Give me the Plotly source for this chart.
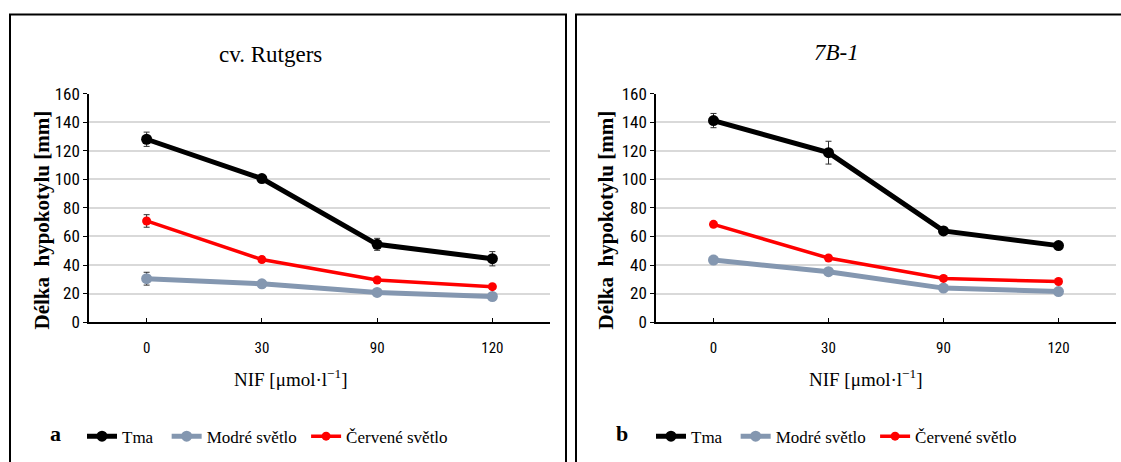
import plotly.graph_objects as go

W, H = 1121, 462

categories = ["0", "30", "90", "120"]
series_names = ["Tma", "Modré světlo", "Červené světlo"]

rutgers_tma = [128.2, 100.6, 54.5, 44.4]
rutgers_modre = [30.4, 26.8, 20.8, 17.9]
rutgers_cervene = [70.9, 43.8, 29.5, 24.8]
rutgers_tma_err = [5.0, 2.0, 4.2, 5.0]
rutgers_modre_err = [4.5, 2.0, 2.0, 2.0]
rutgers_cervene_err = [4.4, 2.0, 1.5, 1.5]

b71_tma = [141.3, 118.8, 63.9, 53.6]
b71_modre = [43.5, 35.3, 23.8, 21.4]
b71_cervene = [68.5, 44.9, 30.6, 28.4]
b71_tma_err = [5.0, 8.0, 2.5, 2.5]
b71_modre_err = [2.5, 2.0, 1.5, 1.5]
b71_cervene_err = [1.5, 1.5, 1.5, 1.5]

y_ticks = [0, 20, 40, 60, 80, 100, 120, 140, 160]

colors = ["#000000", "#8497B0", "#FF0000"]
widths = [5, 5, 3.5]
msizes = [11, 11, 9]
name_pad = ["\u00a0\u00a0", "\u00a0", ""]

SERIF = "Liberation Serif"
NARROW = "Liberation Sans Narrow, Roboto Condensed, DejaVu Sans Condensed, Liberation Sans"

def px(x):
    return x / W

def py(y):
    # compensate the vertical squeeze observed in the rendered screenshot
    yc = (y - 10.5) / 0.952
    return 1 - yc / H

fig = go.Figure()

panels = [
    ("x", "y", "legend", [rutgers_tma, rutgers_modre, rutgers_cervene],
     [rutgers_tma_err, rutgers_modre_err, rutgers_cervene_err]),
    ("x2", "y2", "legend2", [b71_tma, b71_modre, b71_cervene],
     [b71_tma_err, b71_modre_err, b71_cervene_err]),
]

for xa, ya, lg, vals, errs in panels:
    for name, pad, v, e, c, w, ms in zip(series_names, name_pad, vals, errs, colors, widths, msizes):
        fig.add_trace(go.Scatter(
            x=categories, y=v, name=name + pad, mode="lines+markers",
            xaxis=xa, yaxis=ya, legend=lg,
            line=dict(color=c, width=w),
            marker=dict(color=c, size=ms),
            error_y=dict(type="data", array=e, visible=True,
                         color="#303030", thickness=1, width=3),
        ))

axis_common_x = dict(
    type="category", range=[-0.5, 3.5], showgrid=False,
    showline=True, linecolor="#000000", linewidth=1.5,
    ticks="inside", ticklen=4, tickcolor="#000000",
    tickfont=dict(family=NARROW, size=15, color="#000000"),
    ticklabelstandoff=11, fixedrange=True,
)
axis_common_y = dict(
    range=[0, 160], tickvals=y_ticks, showgrid=True,
    gridcolor="#D9D9D9", gridwidth=1.5, zeroline=False,
    showline=True, linecolor="#000000", linewidth=1.5,
    ticks="outside", ticklen=4, tickcolor="#000000",
    tickfont=dict(family=NARROW, size=17, color="#000000"),
    fixedrange=True,
)

y_dom = [py(321), py(94)]

fig.update_layout(
    width=W, height=H,
    margin=dict(l=0, r=0, t=0, b=0),
    paper_bgcolor="white", plot_bgcolor="white",
    xaxis=dict(domain=[px(89), px(550)], anchor="y", **axis_common_x),
    yaxis=dict(domain=y_dom, anchor="x", **axis_common_y),
    xaxis2=dict(domain=[px(656), px(1116)], anchor="y2", **axis_common_x),
    yaxis2=dict(domain=y_dom, anchor="x2", **axis_common_y),
    legend=dict(orientation="h", x=px(82), y=py(435), xanchor="left", yanchor="middle",
                font=dict(family=SERIF, size=17, color="#000000"),
                itemwidth=30, bgcolor="rgba(0,0,0,0)", traceorder="normal"),
    legend2=dict(orientation="h", x=px(651), y=py(435), xanchor="left", yanchor="middle",
                 font=dict(family=SERIF, size=17, color="#000000"),
                 itemwidth=30, bgcolor="rgba(0,0,0,0)", traceorder="normal"),
    showlegend=True,
)

annotations = [
    dict(text="cv. Rutgers", x=px(270), y=py(55), font=dict(family=SERIF, size=23)),
    dict(text="<i>7B-1</i>", x=px(836), y=py(53), font=dict(family=SERIF, size=23)),
    dict(text="NIF [μmol·l<sup>−1</sup>]", x=px(291), y=py(377), font=dict(family=SERIF, size=19)),
    dict(text="NIF [μmol·l<sup>−1</sup>]", x=px(866), y=py(377), font=dict(family=SERIF, size=19)),
    dict(text="<b>Délka  hypokotylu [mm]</b>", x=px(42), y=py(220), textangle=-90,
         font=dict(family=SERIF, size=21)),
    dict(text="<b>Délka  hypokotylu [mm]</b>", x=px(606), y=py(220), textangle=-90,
         font=dict(family=SERIF, size=21)),
    dict(text="<b>a</b>", x=px(55), y=py(432), font=dict(family=SERIF, size=22)),
    dict(text="<b>b</b>", x=px(622), y=py(432), font=dict(family=SERIF, size=22)),
]
for a in annotations:
    a.update(xref="paper", yref="paper", showarrow=False, xanchor="center", yanchor="middle")
    a["font"]["color"] = "#000000"
fig.update_layout(annotations=annotations)

shapes = [
    dict(type="rect", x0=px(10), x1=px(566), y0=py(15), y1=-0.1),
    dict(type="rect", x0=px(576), x1=px(1130), y0=py(15), y1=-0.1),
]
for s in shapes:
    s.update(xref="paper", yref="paper", line=dict(color="#000000", width=2), layer="below")
fig.update_layout(shapes=shapes)

fig.write_html(
    "out.html",
    config={"displayModeBar": False},
    post_script="document.documentElement.style.margin='0';document.body.style.margin='0';document.body.style.padding='0';document.body.style.overflow='hidden';",
)
